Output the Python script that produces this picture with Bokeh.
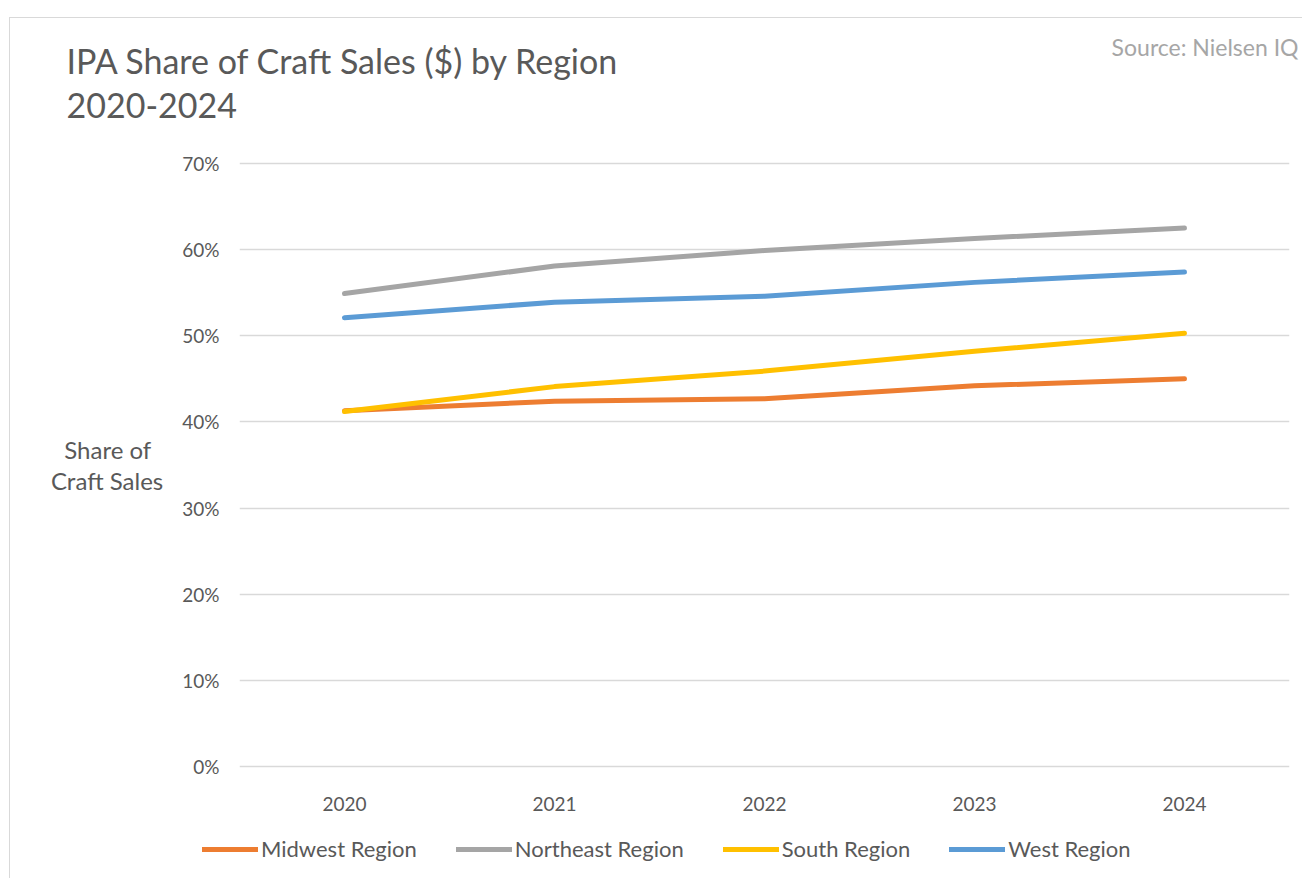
from bokeh.plotting import figure
from bokeh.layouts import column
from bokeh.models import (FixedTicker, NumeralTickFormatter, Legend, LegendItem,
                          Title, Range1d, FactorRange)
from bokeh.embed import file_html
from bokeh.resources import INLINE

years = ["2020", "2021", "2022", "2023", "2024"]
midwest = [0.413, 0.424, 0.427, 0.442, 0.450]
northeast = [0.549, 0.581, 0.599, 0.613, 0.625]
south = [0.412, 0.441, 0.459, 0.482, 0.503]
west = [0.521, 0.539, 0.546, 0.562, 0.574]
series_names = ["Midwest Region", "Northeast Region", "South Region", "West Region"]
series_values = [midwest, northeast, south, west]
series_colors = ["#ED7D31", "#A5A5A5", "#FFC000", "#5B9BD5"]
y_ticks = [0.0, 0.1, 0.2, 0.3, 0.4, 0.5, 0.6, 0.7]

FONT = "Lato"
TXT = "#595959"
PAD = 2 * 0.7 / 603

p = figure(width=1293, height=805, x_range=FactorRange(*years),
           y_range=Range1d(-PAD, 0.7 + PAD),
           output_backend="svg", toolbar_location=None,
           min_border_left=229, min_border_right=14, min_border_top=143, min_border_bottom=55)
p.outline_line_color = None
p.background_fill_color = "white"
p.border_fill_color = "white"

for name, vals, col in zip(series_names, series_values, series_colors):
    p.line(years, vals, line_color=col, line_width=5, line_cap="round", line_join="round")

p.yaxis.ticker = FixedTicker(ticks=y_ticks)
p.yaxis.formatter = NumeralTickFormatter(format="0%")
for ax in (p.xaxis[0], p.yaxis[0]):
    ax.axis_line_color = None
    ax.major_tick_line_color = None
    ax.minor_tick_line_color = None
    ax.major_label_text_font = FONT
    ax.major_label_text_font_size = "19px"
    ax.major_label_text_color = TXT
p.yaxis.major_label_standoff = 14
p.xaxis.major_label_standoff = 22

p.yaxis.axis_label = "Share of\u2002\nCraft Sales"
p.yaxis.axis_label_orientation = "horizontal"
p.yaxis.axis_label_text_font = FONT
p.yaxis.axis_label_text_font_size = "24px"
p.yaxis.axis_label_text_font_style = "normal"
p.yaxis.axis_label_text_color = TXT
p.yaxis.axis_label_text_line_height = 1.05
p.yaxis.axis_label_standoff = 16

p.xgrid.grid_line_color = None
p.ygrid.grid_line_color = "#D9D9D9"
p.ygrid.grid_line_width = 1.5
p.ygrid.ticker = FixedTicker(ticks=y_ticks)

# title rows (first added = closest to the frame)
p.add_layout(Title(text="2020-2024", align="left", offset=-173, standoff=88,
                   text_font=FONT, text_font_size="34px", text_font_style="normal",
                   text_color=TXT), "above")
p.add_layout(Title(text="IPA Share of Craft Sales ($) by Region", align="left", offset=-173,
                   standoff=-69, text_font=FONT, text_font_size="34px",
                   text_font_style="normal", text_color=TXT), "above")
p.add_layout(Title(text="Source: Nielsen IQ", align="right", offset=-9, standoff=-28,
                   text_font=FONT, text_font_size="23px", text_font_style="normal",
                   text_color="#A6A6A6"), "above")

# legend strip (series drawn outside its visible range; only the legend shows)
lf = figure(width=1293, height=56, x_range=FactorRange(*years), y_range=Range1d(10, 11),
            x_axis_type=None, y_axis_type=None, output_backend="svg", toolbar_location=None,
            min_border_left=0, min_border_right=0, min_border_top=0, min_border_bottom=0)
lf.outline_line_color = None
lf.grid.visible = False
items = []
for name, vals, col in zip(series_names, series_values, series_colors):
    r = lf.line(years, vals, line_color=col, line_width=5, line_cap="round")
    items.append(LegendItem(label=name, renderers=[r]))
legend = Legend(items=items, orientation="horizontal", location=(192, 17),
                glyph_width=56, glyph_height=20, label_standoff=3, spacing=39,
                padding=0, margin=0, border_line_color=None, background_fill_alpha=0,
                label_text_font=FONT, label_text_font_size="22px", label_text_color=TXT)
lf.add_layout(legend, "center")

layout = column(p, column(lf), spacing=0)
layout.margin = (17, 0, 0, 9)
layout.styles = {"border-left": "1.5px solid #D9D9D9", "border-top": "1.5px solid #D9D9D9"}

open("out.html", "w").write(file_html(layout, INLINE))
